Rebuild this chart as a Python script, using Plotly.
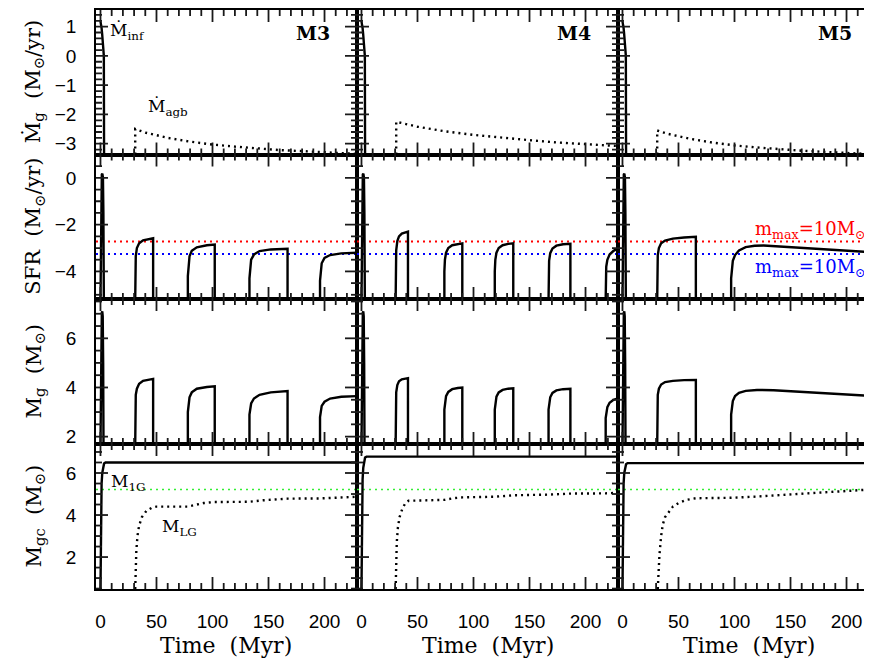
import plotly.graph_objects as go

MODELS = ["M3", "M4", "M5"]

MDOT_FLOOR = -3.37
SFR_FLOOR = -5.18
MG_FLOOR = 1.7
MGC_FLOOR = 0.48

T_MINF = [0, 0.5, 1.0, 1.5, 2.0, 2.5, 3.0, 3.2, 229]
MINF = [1.18, 1.1, 0.95, 0.75, 0.5, 0.25, 0.0, MDOT_FLOOR, MDOT_FLOOR]
T_MAGB_M3 = [31, 31, 40, 60, 80, 100, 120, 140, 160, 183, 200, 229]
MAGB_M3 = [MDOT_FLOOR, -2.5, -2.62, -2.8, -2.93, -3.03, -3.1, -3.17, -3.22, -3.26, -3.3, -3.35]
T_MAGB_M4 = [31, 31, 50, 75, 100, 125, 150, 175, 200, 229]
MAGB_M4 = [MDOT_FLOOR, -2.25, -2.42, -2.58, -2.7, -2.8, -2.88, -2.96, -3.02, -3.08]
T_MAGB_M5 = [31, 31, 40, 60, 80, 100, 120, 140, 160, 180, 200, 229]
MAGB_M5 = [MDOT_FLOOR, -2.55, -2.66, -2.83, -2.96, -3.06, -3.13, -3.19, -3.24, -3.28, -3.32, -3.37]

T_SFR_M3 = [0, 0.4, 0.8, 1.2, 1.7, 2.2, 2.6, 3.0,
            31, 31, 31.5, 32.5, 34.5, 38, 47, 47,
            78, 78, 78.5, 79.5, 81.5, 86, 95, 102, 102,
            133, 133, 133.5, 134.5, 137, 142, 152, 167, 167,
            196, 196, 196.5, 197.5, 200, 205, 215, 229]
SFR_M3 = [SFR_FLOOR, -1.2, -0.1, 0.15, 0.18, 0.0, -1.5, SFR_FLOOR,
          SFR_FLOOR, -3.9, -3.35, -3.0, -2.8, -2.67, -2.58, SFR_FLOOR,
          SFR_FLOOR, -4.2, -3.7, -3.35, -3.12, -2.97, -2.88, -2.85, SFR_FLOOR,
          SFR_FLOOR, -4.3, -3.85, -3.5, -3.28, -3.13, -3.06, -3.03, SFR_FLOOR,
          SFR_FLOOR, -4.4, -4.0, -3.65, -3.42, -3.3, -3.23, -3.2]
T_SFR_M4 = [0, 0.4, 0.8, 1.2, 1.7, 2.2, 2.6, 3.0,
            30.5, 30.5, 31, 32, 33.5, 36, 39, 41.5, 41.5,
            74, 74, 74.5, 75.5, 77.5, 81, 86, 90, 90,
            119, 119, 119.5, 120.5, 122.5, 126, 131, 135.5, 135.5,
            167, 167, 167.5, 168.5, 170.5, 174, 180, 186.5, 186.5,
            218, 218, 218.5, 219.5, 221.5, 225, 229]
SFR_M4 = [SFR_FLOOR, -1.2, -0.1, 0.15, 0.18, 0.0, -1.5, SFR_FLOOR,
          SFR_FLOOR, -3.7, -3.1, -2.7, -2.5, -2.38, -2.32, -2.3, SFR_FLOOR,
          SFR_FLOOR, -4.0, -3.5, -3.2, -3.0, -2.88, -2.82, -2.8, SFR_FLOOR,
          SFR_FLOOR, -4.0, -3.5, -3.2, -3.0, -2.88, -2.82, -2.8, SFR_FLOOR,
          SFR_FLOOR, -4.1, -3.55, -3.22, -3.02, -2.9, -2.84, -2.82, SFR_FLOOR,
          SFR_FLOOR, -4.3, -3.8, -3.5, -3.28, -3.12, -3.02]
T_SFR_M5 = [0, 0.4, 0.8, 1.2, 1.7, 2.2, 2.6, 3.0,
            31, 31, 31.5, 32.5, 34.5, 38, 45, 55, 65.5, 65.5,
            97, 97, 97.5, 98.5, 100.5, 104, 110, 118, 126, 140, 160, 180, 200, 229]
SFR_M5 = [SFR_FLOOR, -1.2, -0.1, 0.15, 0.18, 0.0, -1.5, SFR_FLOOR,
          SFR_FLOOR, -3.8, -3.3, -3.0, -2.8, -2.68, -2.6, -2.55, -2.52, SFR_FLOOR,
          SFR_FLOOR, -4.3, -3.85, -3.55, -3.3, -3.1, -2.96, -2.9, -2.89, -2.93, -3.0, -3.06, -3.12, -3.2]
SFR_RED = -2.72
SFR_BLUE = -3.26

T_MG_M3 = [0, 0.4, 0.8, 1.2, 1.6, 2.0, 2.4, 2.7,
           31, 31, 31.5, 32.5, 34.5, 38, 47, 47,
           78, 78, 78.5, 79.5, 81.5, 86, 95, 102, 102,
           133, 133, 133.5, 134.5, 137, 142, 152, 167, 167,
           196, 196, 196.5, 197.5, 200, 205, 215, 229]
MG_M3 = [MG_FLOOR, 5.5, 6.8, 7.05, 7.1, 6.9, 5.0, MG_FLOOR,
         MG_FLOOR, 3.3, 3.7, 3.95, 4.15, 4.27, 4.35, MG_FLOOR,
         MG_FLOOR, 3.0, 3.35, 3.6, 3.8, 3.95, 4.02, 4.05, MG_FLOOR,
         MG_FLOOR, 2.9, 3.15, 3.35, 3.55, 3.7, 3.8, 3.85, MG_FLOOR,
         MG_FLOOR, 2.8, 3.05, 3.25, 3.42, 3.55, 3.62, 3.65]
T_MG_M4 = [0, 0.4, 0.8, 1.2, 1.6, 2.0, 2.4, 2.7,
           30.5, 30.5, 31, 32, 33.5, 36, 41.5, 41.5,
           74, 74, 74.5, 75.5, 77.5, 81, 86, 90, 90,
           119, 119, 119.5, 120.5, 122.5, 126, 131, 135.5, 135.5,
           167, 167, 167.5, 168.5, 170.5, 174, 180, 186.5, 186.5,
           218, 218, 218.5, 219.5, 221.5, 225, 229]
MG_M4 = [MG_FLOOR, 5.5, 6.8, 7.05, 7.1, 6.9, 5.0, MG_FLOOR,
         MG_FLOOR, 3.4, 3.8, 4.1, 4.25, 4.33, 4.38, MG_FLOOR,
         MG_FLOOR, 3.1, 3.4, 3.65, 3.82, 3.93, 3.98, 4.0, MG_FLOOR,
         MG_FLOOR, 3.1, 3.4, 3.63, 3.8, 3.9, 3.95, 3.97, MG_FLOOR,
         MG_FLOOR, 3.1, 3.38, 3.6, 3.78, 3.88, 3.93, 3.95, MG_FLOOR,
         MG_FLOOR, 2.75, 3.0, 3.2, 3.38, 3.5, 3.56]
T_MG_M5 = [0, 0.4, 0.8, 1.2, 1.6, 2.0, 2.4, 2.7,
           31, 31, 31.5, 32.5, 34.5, 38, 45, 55, 65.5, 65.5,
           97, 97, 97.5, 98.5, 100.5, 104, 110, 120, 135, 160, 190, 229]
MG_M5 = [MG_FLOOR, 5.5, 6.8, 7.05, 7.1, 6.9, 5.0, MG_FLOOR,
         MG_FLOOR, 3.3, 3.7, 3.95, 4.12, 4.22, 4.27, 4.3, 4.31, MG_FLOOR,
         MG_FLOOR, 2.9, 3.2, 3.45, 3.65, 3.78, 3.86, 3.9, 3.89, 3.83, 3.74, 3.64]

T_M1G = [0, 0.2, 0.5, 1.0, 1.6, 2.3, 3.2, 4.5, 229]
M1G_M3 = [MGC_FLOOR, 3.0, 4.6, 5.5, 6.0, 6.3, 6.45, 6.5, 6.5]
M1G_M4 = [MGC_FLOOR, 3.2, 4.8, 5.7, 6.25, 6.58, 6.74, 6.78, 6.78]
M1G_M5 = [MGC_FLOOR, 3.0, 4.6, 5.5, 6.0, 6.28, 6.42, 6.47, 6.47]
T_MLG_M3 = [31, 31.5, 32, 33, 34.5, 37, 41, 46, 50, 78, 85, 92, 102, 133, 145, 155, 167, 196, 210, 229]
MLG_M3 = [MGC_FLOOR, 1.5, 2.3, 3.0, 3.5, 3.9, 4.2, 4.35, 4.4, 4.4, 4.5, 4.57, 4.62, 4.63, 4.7, 4.75, 4.78, 4.79, 4.83, 4.87]
T_MLG_M4 = [30.5, 31, 31.5, 32.5, 34, 36.5, 39, 42, 74, 82, 90, 119, 135.5, 167, 186.5, 218, 229]
MLG_M4 = [MGC_FLOOR, 1.8, 2.7, 3.4, 3.9, 4.3, 4.55, 4.68, 4.72, 4.8, 4.84, 4.87, 4.94, 4.97, 5.02, 5.03, 5.06]
T_MLG_M5 = [31.5, 32, 33, 34.5, 36, 38, 40.5, 45, 50, 57, 65.5, 97, 120, 150, 185, 229]
MLG_M5 = [MGC_FLOOR, 1.2, 2.1, 3.0, 3.55, 3.9, 4.1, 4.4, 4.57, 4.72, 4.8, 4.82, 4.88, 4.98, 5.12, 5.24]
MGC_GREEN = 5.22

# axes
T_RANGE = [-4, 229]
X_MAJOR = [0, 50, 100, 150, 200]
X_MINOR_STEP = 10
ROW_RANGES = [[-3.37, 1.57], [-5.18, 1.0], [1.7, 7.6], [0.48, 7.38]]
ROW_MAJOR = [[-3, -2, -1, 0, 1], [-4, -2, 0], [2, 4, 6], [2, 4, 6]]
ROW_MINOR_STEP = [0.2, 0.5, 0.5, 0.5]

# ---------------- layout geometry ----------------
W, H = 872, 669
COL_PX = [88, 349, 610, 871]
ROW_PX = [2, 146.5, 291, 436, 581]
MAJOR_LEN, MINOR_LEN = 12, 6

TICK_FONT = dict(family="Liberation Sans, Arial, sans-serif", size=19, color="black")
SERIF = "DejaVu Serif, Liberation Serif, serif"
AXCOL = "#000000"
TICKCOL = "#1a1a1a"

fig = go.Figure()


def sub(r, c):
    i = r * 3 + c + 1
    return ("x" if i == 1 else f"x{i}"), ("y" if i == 1 else f"y{i}"), i


def steps(lo, hi, step):
    out = []
    k = int(lo // step) - 1
    while k * step <= hi + 1e-9:
        v = round(k * step, 6)
        if lo + 1e-9 < v < hi - 1e-9:
            out.append(v)
        k += 1
    return out


solid = dict(color="black", width=2.4)
dotted = dict(color="black", width=2.4, dash="2px,4px")

row_data = [
    [[(T_MINF, MINF, solid), (T_MAGB_M3, MAGB_M3, dotted)],
     [(T_MINF, MINF, solid), (T_MAGB_M4, MAGB_M4, dotted)],
     [(T_MINF, MINF, solid), (T_MAGB_M5, MAGB_M5, dotted)]],
    [[(T_SFR_M3, SFR_M3, solid)], [(T_SFR_M4, SFR_M4, solid)], [(T_SFR_M5, SFR_M5, solid)]],
    [[(T_MG_M3, MG_M3, solid)], [(T_MG_M4, MG_M4, solid)], [(T_MG_M5, MG_M5, solid)]],
    [[(T_M1G, M1G_M3, solid), (T_MLG_M3, MLG_M3, dotted)],
     [(T_M1G, M1G_M4, solid), (T_MLG_M4, MLG_M4, dotted)],
     [(T_M1G, M1G_M5, solid), (T_MLG_M5, MLG_M5, dotted)]],
]

shapes = []
for r in range(4):
    for c in range(3):
        xa, ya, i = sub(r, c)
        yr = ROW_RANGES[r]
        if r == 1:
            fig.add_trace(go.Scatter(x=T_RANGE, y=[SFR_RED, SFR_RED], mode="lines",
                                     line=dict(color="#ff0000", width=2, dash="2px,4px"),
                                     xaxis=xa, yaxis=ya, hoverinfo="skip"))
            fig.add_trace(go.Scatter(x=T_RANGE, y=[SFR_BLUE, SFR_BLUE], mode="lines",
                                     line=dict(color="#0000ff", width=2, dash="2px,4px"),
                                     xaxis=xa, yaxis=ya, hoverinfo="skip"))
        if r == 3:
            fig.add_trace(go.Scatter(x=T_RANGE, y=[MGC_GREEN, MGC_GREEN], mode="lines",
                                     line=dict(color="#33ee33", width=1.5, dash="2px,4px"),
                                     xaxis=xa, yaxis=ya, hoverinfo="skip"))
        for (tx, vy, ln) in row_data[r][c]:
            fig.add_trace(go.Scatter(x=tx, y=vy, mode="lines", line=ln,
                                     xaxis=xa, yaxis=ya, hoverinfo="skip"))

        # inside tick marks on all four sides (IDL style), as layout shapes
        hpx = ROW_PX[r + 1] - ROW_PX[r]
        wpx = COL_PX[c + 1] - COL_PX[c]
        xminor = [v for v in steps(T_RANGE[0], T_RANGE[1], X_MINOR_STEP) if v not in X_MAJOR]
        for vals, L in ((X_MAJOR, MAJOR_LEN), (xminor, MINOR_LEN)):
            f = L / hpx
            for v in vals:
                for (y0, y1) in ((0, f), (1, 1 - f)):
                    shapes.append(dict(type="line", xref=xa, yref=f"{ya} domain",
                                       x0=v, x1=v, y0=y0, y1=y1, layer="above",
                                       line=dict(color=TICKCOL, width=1.8)))
        yminor = [v for v in steps(yr[0], yr[1], ROW_MINOR_STEP[r]) if v not in ROW_MAJOR[r]]
        for vals, L in ((ROW_MAJOR[r], MAJOR_LEN), (yminor, MINOR_LEN)):
            f = L / wpx
            for v in vals:
                for (x0, x1) in ((0, f), (1, 1 - f)):
                    shapes.append(dict(type="line", xref=f"{xa} domain", yref=ya,
                                       x0=x0, x1=x1, y0=v, y1=v, layer="above",
                                       line=dict(color=TICKCOL, width=1.8)))

        xdom = [COL_PX[c] / W, COL_PX[c + 1] / W]
        ydom = [1 - ROW_PX[r + 1] / H, 1 - ROW_PX[r] / H]
        xkey = "xaxis" if i == 1 else f"xaxis{i}"
        ykey = "yaxis" if i == 1 else f"yaxis{i}"
        fig.layout[xkey] = dict(
            domain=xdom, anchor=ya, range=T_RANGE, showgrid=False, zeroline=False,
            automargin=False, showline=True, linecolor=AXCOL, linewidth=1.5, mirror=True,
            ticks="", tickmode="array", tickvals=X_MAJOR,
            showticklabels=(r == 3), tickfont=TICK_FONT, ticklabelstandoff=14,
        )
        fig.layout[ykey] = dict(
            domain=ydom, anchor=xa, range=yr, showgrid=False, zeroline=False,
            automargin=False, showline=True, linecolor=AXCOL, linewidth=1.5, mirror=True,
            ticks="", tickmode="array", tickvals=ROW_MAJOR[r],
            showticklabels=(c == 0), tickfont=TICK_FONT, ticklabelstandoff=14,
        )

ann = []
ytitles = ["Ṁ<sub>g</sub>  (M<sub>⊙</sub>/yr)", "SFR  (M<sub>⊙</sub>/yr)",
           "M<sub>g</sub>  (M<sub>⊙</sub>)", "M<sub>gc</sub>  (M<sub>⊙</sub>)"]
for r, txt in enumerate(ytitles):
    ann.append(dict(text=txt, xref="paper", yref="paper", x=26 / W,
                    y=1 - (ROW_PX[r] + ROW_PX[r + 1]) / 2 / H, textangle=-90,
                    showarrow=False, xanchor="center", yanchor="middle",
                    font=dict(family=SERIF, size=21, color="black")))
for c in range(3):
    ann.append(dict(text="Time  (Myr)", xref="paper", yref="paper",
                    x=(COL_PX[c] + COL_PX[c + 1]) / 2 / W, y=1 - 637 / H,
                    showarrow=False, xanchor="center", yanchor="middle",
                    font=dict(family=SERIF, size=22, color="black")))
for c, m in enumerate(MODELS):
    xa, ya, i = sub(0, c)
    ann.append(dict(text="<b>" + m + "</b>", xref=xa, yref=ya, x=207, y=0.79,
                    showarrow=False, xanchor="right", yanchor="middle",
                    font=dict(family=SERIF, size=19, color="black")))
ann.append(dict(text="Ṁ<sub>inf</sub>", xref="x", yref="y", x=6.5, y=0.85,
                showarrow=False, xanchor="left", yanchor="middle",
                font=dict(family=SERIF, size=17, color="black")))
ann.append(dict(text="Ṁ<sub>agb</sub>", xref="x", yref="y", x=41, y=-1.78,
                showarrow=False, xanchor="left", yanchor="middle",
                font=dict(family=SERIF, size=17, color="black")))
xa, ya, _ = sub(1, 2)
ann.append(dict(text="m<sub>max</sub>=10M<sub>⊙</sub>", xref=xa, yref=ya, x=219, y=-2.22,
                showarrow=False, xanchor="right", yanchor="middle",
                font=dict(family=SERIF, size=18, color="#ff0000")))
ann.append(dict(text="m<sub>max</sub>=10M<sub>⊙</sub>", xref=xa, yref=ya, x=219, y=-3.86,
                showarrow=False, xanchor="right", yanchor="middle",
                font=dict(family=SERIF, size=18, color="#0000ff")))
xa, ya, _ = sub(3, 0)
ann.append(dict(text="M<sub>1G</sub>", xref=xa, yref=ya, x=8, y=5.55,
                showarrow=False, xanchor="left", yanchor="middle",
                font=dict(family=SERIF, size=17, color="black")))
ann.append(dict(text="M<sub>LG</sub>", xref=xa, yref=ya, x=53, y=3.4,
                showarrow=False, xanchor="left", yanchor="middle",
                font=dict(family=SERIF, size=17, color="black")))

fig.update_layout(template="none", width=W, height=H, margin=dict(l=0, r=0, t=0, b=0, pad=0),
                  paper_bgcolor="white", plot_bgcolor="white", showlegend=False,
                  annotations=ann, shapes=shapes)

fig.write_html("out.html")
